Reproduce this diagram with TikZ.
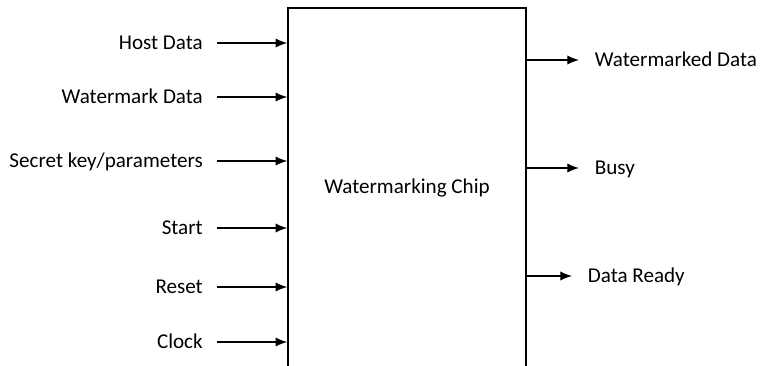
\documentclass[tikz,border=0pt]{standalone}
\usepackage{fontspec}
\setmainfont{Carlito}
\usetikzlibrary{positioning,arrows.meta}

\begin{document}
\begin{tikzpicture}[
    x=0.03cm, y=-0.03cm,
    chip/.style={draw, line width=1.3pt, minimum width=7.14cm, minimum height=10.8cm, font=\fontsize{18}{22}\selectfont},
    sig/.style={font=\fontsize{18}{22}\selectfont, text height=11.6pt, text depth=0pt, inner ysep=0pt},
    inp/.style={sig, anchor=east, inner xsep=0.42cm},
    outp/.style={sig, anchor=west, inner xsep=0.47cm},
    arr/.style={-{Latex[length=10pt, width=8pt]}, line width=1.2pt},
]
\useasboundingbox (0,0) rectangle (767,365);

% Chip block
\node[chip] (chip) at (407,188) {Watermarking Chip};

% Input signals
\node[inp] (host) at (217,43) {Host Data};
\node[inp] (wmdata) at (217,97) {Watermark Data};
\node[inp] (key) at (217,161) {Secret key/parameters};
\node[inp] (start) at (217,228) {Start};
\node[inp] (reset) at (217,287) {Reset};
\node[inp] (clk) at (217,342) {Clock};

\draw[arr] (host.east) -- (host.east -| chip.west);
\draw[arr] (wmdata.east) -- (wmdata.east -| chip.west);
\draw[arr] (key.east) -- (key.east -| chip.west);
\draw[arr] (start.east) -- (start.east -| chip.west);
\draw[arr] (reset.east) -- (reset.east -| chip.west);
\draw[arr] (clk.east) -- (clk.east -| chip.west);

% Output signals
\node[outp] (wmout) at (579,60) {Watermarked Data};
\node[outp] (busy) at (579,168) {Busy};
\node[outp] (ready) at (572,276) {Data Ready};

\draw[arr] (wmout.west -| chip.east) -- (wmout.west);
\draw[arr] (busy.west -| chip.east) -- (busy.west);
\draw[arr] (ready.west -| chip.east) -- (ready.west);
\end{tikzpicture}
\end{document}
